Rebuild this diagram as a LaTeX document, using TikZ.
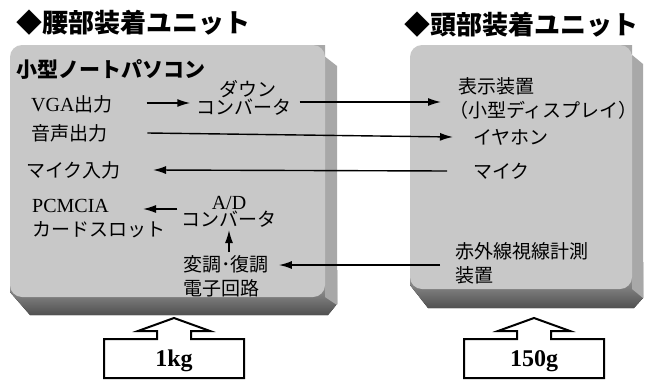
\documentclass[tikz,border=0pt]{standalone}
\usepackage{fontspec}
\setmainfont{Liberation Serif}
\newfontfamily\jp{Noto Sans CJK JP}
\usetikzlibrary{arrows.meta}
\definecolor{facec}{RGB}{200,200,200}
\definecolor{sidec}{RGB}{168,168,168}
\definecolor{botc}{RGB}{80,80,80}
\begin{document}
\begin{tikzpicture}[x=1pt,y=-1pt,
  jt/.style={inner sep=0pt, anchor=west, align=left, font=\jp\fontsize{19}{24}\selectfont},
  title/.style={inner sep=0pt, anchor=west, font=\jp\bfseries\fontsize{26}{28}\selectfont},
  arr/.style={line width=1.4pt, -{Latex[length=13pt,width=8pt]}},
  face/.style={fill=facec, rounded corners=12pt},
  side/.style={fill=sidec},
  bot/.style={top color=gray!55, bottom color=botc},
  wbox/.style={draw, line width=2pt, fill=white, line join=miter},
  wlab/.style={inner sep=0pt, font=\bfseries\fontsize{24}{26}\selectfont}]
\useasboundingbox (0,0) rectangle (650,380);
\fill[white] (0,0) rectangle (650,380);

% left block
\fill[bot] (10,270) -- (10,292) -- (30,315) -- (328,315) -- (337,304) -- (337,270) -- cycle;
\fill[side] (310,45) -- (337,66) -- (337,305) -- (325,297) -- (325,45) -- cycle;
\fill[face] (10,45) rectangle (325,297);

% right block
\fill[bot] (410,262) -- (410,285) -- (428,308) -- (634,308) -- (643,298) -- (643,262) -- cycle;
\fill[side] (620,45) -- (643,64) -- (643,298) -- (632,289) -- (632,45) -- cycle;
\fill[face] (410,45) rectangle (632,289);

% titles
\node[title] (t1) at (16,23) {◆腰部装着ユニット};
\node[title] (t2) at (404,25) {◆頭部装着ユニット};
\node[inner sep=0pt, anchor=west, font=\jp\bfseries\fontsize{21}{22}\selectfont] (pc) at (16,69) {小型ノートパソコン};

% left texts
\node[jt] (vga) at (31,104) {{\fontsize{20}{20}\selectfont\rmfamily VGA}出力};
\node[jt, anchor=center, align=center, font=\jp\fontsize{19}{15}\selectfont] (dc) at (244,98) {\hspace*{8pt}ダウン\\コンバータ};
\node[jt] (snd) at (31,133) {音声出力};
\node[jt] (mic) at (26,170) {マイク入力};
\node[jt] (pcm) at (32,219) {{\rmfamily\fontsize{20}{20}\selectfont PCMCIA}\\カードスロット};
\node[jt, anchor=center, align=center, font=\jp\fontsize{19}{17}\selectfont] (ad) at (229,212) {{\rmfamily\fontsize{20}{17}\selectfont A/D}\\コンバータ};
\node[jt] (mod) at (183,276) {変調･復調\\電子回路};

% right texts
\node[jt] (disp) at (449,98) {\hspace*{9pt}表示装置\\（小型ディスプレイ）};
\node[jt] (ear) at (473,137) {イヤホン};
\node[jt] (rmic) at (473,171) {マイク};
\node[jt] (ir) at (455,263) {赤外線視線計測\\装置};

% arrows
\draw[arr] ([xshift=34pt]vga.east |- 0,103) -- ([xshift=-6pt]dc.west |- 0,103);
\draw[arr] ([xshift=8pt]dc.east |- 0,102) -- ([xshift=-8pt]disp.west |- 0,102);
\draw[arr] ([xshift=40pt]snd.east) -- ([xshift=-20pt]ear.west);
\draw[arr] ([xshift=-26pt]rmic.west) -- ([xshift=32pt]mic.east);
\draw[arr] ([xshift=-4pt]ad.west |- 0,209) -- ([xshift=111pt]pcm.west |- 0,209);
\draw[arr] (ad.south |- 0,252) -- (ad.south |- 0,230);
\draw[arr] ([xshift=-15pt]ir.west |- 0,265) -- ([xshift=10pt]mod.east |- 0,265);

% weight arrows
\draw[wbox] (104,378) -- (104,339) -- (157,339) -- (157,331) -- (138,331) -- (174,318) -- (210,331) -- (191,331) -- (191,339) -- (244,339) -- (244,378) -- cycle;
\node[wlab] (w1) at (174,361) {1kg};
\draw[wbox] (464,378) -- (464,339) -- (517,339) -- (517,331) -- (498,331) -- (534,318) -- (570,331) -- (551,331) -- (551,339) -- (604,339) -- (604,378) -- cycle;
\node[wlab] (w2) at (534,361) {150g};
\end{tikzpicture}
\end{document}
